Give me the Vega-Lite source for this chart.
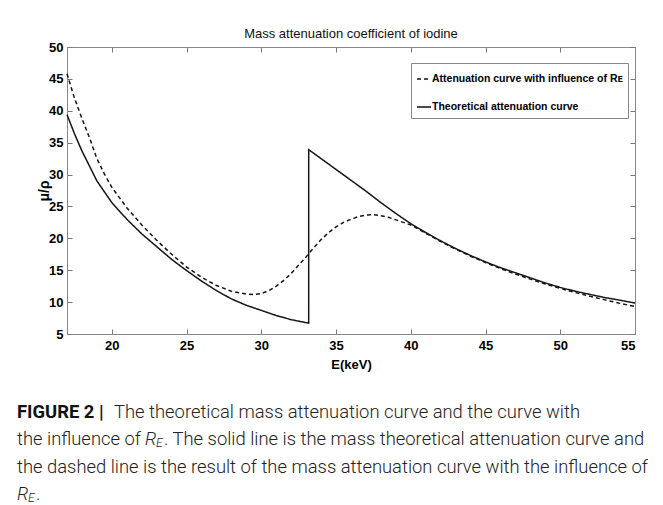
{
  "$schema": "https://vega.github.io/schema/vega-lite/v6.json",
  "background": "white",
  "padding": {"left": 17, "top": 27, "right": 0, "bottom": 0},
  "spacing": 31,
  "config": {"view": {"stroke": null}},
  "vconcat": [
    {
      "width": 568,
      "height": 287,
      "view": {"stroke": "#888", "strokeWidth": 1},
      "title": {"text": "Mass attenuation coefficient of iodine", "font": "Liberation Sans", "fontSize": 13, "fontWeight": "normal", "color": "#111", "offset": 0},
      "data": {"values": [
        {"i": 1, "series": "Theoretical attenuation curve", "E": 17, "mu": 39.4},
        {"i": 2, "series": "Theoretical attenuation curve", "E": 17.5, "mu": 36.4},
        {"i": 3, "series": "Theoretical attenuation curve", "E": 18, "mu": 33.7},
        {"i": 4, "series": "Theoretical attenuation curve", "E": 19, "mu": 29.0},
        {"i": 5, "series": "Theoretical attenuation curve", "E": 20, "mu": 25.6},
        {"i": 6, "series": "Theoretical attenuation curve", "E": 21, "mu": 23.0},
        {"i": 7, "series": "Theoretical attenuation curve", "E": 22, "mu": 20.7},
        {"i": 8, "series": "Theoretical attenuation curve", "E": 23, "mu": 18.7},
        {"i": 9, "series": "Theoretical attenuation curve", "E": 24, "mu": 16.7},
        {"i": 10, "series": "Theoretical attenuation curve", "E": 25, "mu": 14.95},
        {"i": 11, "series": "Theoretical attenuation curve", "E": 26, "mu": 13.3},
        {"i": 12, "series": "Theoretical attenuation curve", "E": 27, "mu": 11.8},
        {"i": 13, "series": "Theoretical attenuation curve", "E": 28, "mu": 10.5},
        {"i": 14, "series": "Theoretical attenuation curve", "E": 29, "mu": 9.5},
        {"i": 15, "series": "Theoretical attenuation curve", "E": 30, "mu": 8.7},
        {"i": 16, "series": "Theoretical attenuation curve", "E": 31, "mu": 7.9},
        {"i": 17, "series": "Theoretical attenuation curve", "E": 32, "mu": 7.25},
        {"i": 18, "series": "Theoretical attenuation curve", "E": 33.17, "mu": 6.7},
        {"i": 19, "series": "Theoretical attenuation curve", "E": 33.17, "mu": 33.9},
        {"i": 20, "series": "Theoretical attenuation curve", "E": 34, "mu": 32.5},
        {"i": 21, "series": "Theoretical attenuation curve", "E": 35, "mu": 30.8},
        {"i": 22, "series": "Theoretical attenuation curve", "E": 36, "mu": 29.1},
        {"i": 23, "series": "Theoretical attenuation curve", "E": 37, "mu": 27.4},
        {"i": 24, "series": "Theoretical attenuation curve", "E": 38, "mu": 25.6},
        {"i": 25, "series": "Theoretical attenuation curve", "E": 39, "mu": 23.9},
        {"i": 26, "series": "Theoretical attenuation curve", "E": 40, "mu": 22.3},
        {"i": 27, "series": "Theoretical attenuation curve", "E": 41, "mu": 20.9},
        {"i": 28, "series": "Theoretical attenuation curve", "E": 42, "mu": 19.6},
        {"i": 29, "series": "Theoretical attenuation curve", "E": 43, "mu": 18.4},
        {"i": 30, "series": "Theoretical attenuation curve", "E": 44, "mu": 17.3},
        {"i": 31, "series": "Theoretical attenuation curve", "E": 45, "mu": 16.3},
        {"i": 32, "series": "Theoretical attenuation curve", "E": 46, "mu": 15.4},
        {"i": 33, "series": "Theoretical attenuation curve", "E": 47, "mu": 14.6},
        {"i": 34, "series": "Theoretical attenuation curve", "E": 48, "mu": 13.8},
        {"i": 35, "series": "Theoretical attenuation curve", "E": 49, "mu": 13.0},
        {"i": 36, "series": "Theoretical attenuation curve", "E": 50, "mu": 12.3},
        {"i": 37, "series": "Theoretical attenuation curve", "E": 51, "mu": 11.7},
        {"i": 38, "series": "Theoretical attenuation curve", "E": 52, "mu": 11.2},
        {"i": 39, "series": "Theoretical attenuation curve", "E": 53, "mu": 10.7},
        {"i": 40, "series": "Theoretical attenuation curve", "E": 54, "mu": 10.3},
        {"i": 41, "series": "Theoretical attenuation curve", "E": 55, "mu": 9.85},
        {"i": 1, "series": "Attenuation curve with influence of Rᴇ", "E": 17, "mu": 45.8},
        {"i": 2, "series": "Attenuation curve with influence of Rᴇ", "E": 17.5, "mu": 42.0},
        {"i": 3, "series": "Attenuation curve with influence of Rᴇ", "E": 18, "mu": 38.8},
        {"i": 4, "series": "Attenuation curve with influence of Rᴇ", "E": 18.5, "mu": 35.8},
        {"i": 5, "series": "Attenuation curve with influence of Rᴇ", "E": 19, "mu": 32.5},
        {"i": 6, "series": "Attenuation curve with influence of Rᴇ", "E": 19.5, "mu": 30.1},
        {"i": 7, "series": "Attenuation curve with influence of Rᴇ", "E": 20, "mu": 28.0},
        {"i": 8, "series": "Attenuation curve with influence of Rᴇ", "E": 21, "mu": 24.8},
        {"i": 9, "series": "Attenuation curve with influence of Rᴇ", "E": 22, "mu": 22.1},
        {"i": 10, "series": "Attenuation curve with influence of Rᴇ", "E": 23, "mu": 19.7},
        {"i": 11, "series": "Attenuation curve with influence of Rᴇ", "E": 24, "mu": 17.5},
        {"i": 12, "series": "Attenuation curve with influence of Rᴇ", "E": 25, "mu": 15.5},
        {"i": 13, "series": "Attenuation curve with influence of Rᴇ", "E": 26, "mu": 13.9},
        {"i": 14, "series": "Attenuation curve with influence of Rᴇ", "E": 27, "mu": 12.6},
        {"i": 15, "series": "Attenuation curve with influence of Rᴇ", "E": 28, "mu": 11.7},
        {"i": 16, "series": "Attenuation curve with influence of Rᴇ", "E": 29, "mu": 11.25},
        {"i": 17, "series": "Attenuation curve with influence of Rᴇ", "E": 29.5, "mu": 11.2},
        {"i": 18, "series": "Attenuation curve with influence of Rᴇ", "E": 30, "mu": 11.35},
        {"i": 19, "series": "Attenuation curve with influence of Rᴇ", "E": 30.5, "mu": 11.8},
        {"i": 20, "series": "Attenuation curve with influence of Rᴇ", "E": 31, "mu": 12.5},
        {"i": 21, "series": "Attenuation curve with influence of Rᴇ", "E": 31.5, "mu": 13.4},
        {"i": 22, "series": "Attenuation curve with influence of Rᴇ", "E": 32, "mu": 14.5},
        {"i": 23, "series": "Attenuation curve with influence of Rᴇ", "E": 32.5, "mu": 15.8},
        {"i": 24, "series": "Attenuation curve with influence of Rᴇ", "E": 33, "mu": 17.1},
        {"i": 25, "series": "Attenuation curve with influence of Rᴇ", "E": 33.5, "mu": 18.5},
        {"i": 26, "series": "Attenuation curve with influence of Rᴇ", "E": 34, "mu": 19.8},
        {"i": 27, "series": "Attenuation curve with influence of Rᴇ", "E": 34.5, "mu": 20.9},
        {"i": 28, "series": "Attenuation curve with influence of Rᴇ", "E": 35, "mu": 21.8},
        {"i": 29, "series": "Attenuation curve with influence of Rᴇ", "E": 35.5, "mu": 22.5},
        {"i": 30, "series": "Attenuation curve with influence of Rᴇ", "E": 36, "mu": 23.0},
        {"i": 31, "series": "Attenuation curve with influence of Rᴇ", "E": 36.5, "mu": 23.4},
        {"i": 32, "series": "Attenuation curve with influence of Rᴇ", "E": 37, "mu": 23.65},
        {"i": 33, "series": "Attenuation curve with influence of Rᴇ", "E": 37.5, "mu": 23.7},
        {"i": 34, "series": "Attenuation curve with influence of Rᴇ", "E": 38, "mu": 23.55},
        {"i": 35, "series": "Attenuation curve with influence of Rᴇ", "E": 38.5, "mu": 23.3},
        {"i": 36, "series": "Attenuation curve with influence of Rᴇ", "E": 39, "mu": 22.9},
        {"i": 37, "series": "Attenuation curve with influence of Rᴇ", "E": 39.5, "mu": 22.5},
        {"i": 38, "series": "Attenuation curve with influence of Rᴇ", "E": 40, "mu": 22.1},
        {"i": 39, "series": "Attenuation curve with influence of Rᴇ", "E": 41, "mu": 20.8},
        {"i": 40, "series": "Attenuation curve with influence of Rᴇ", "E": 42, "mu": 19.5},
        {"i": 41, "series": "Attenuation curve with influence of Rᴇ", "E": 43, "mu": 18.3},
        {"i": 42, "series": "Attenuation curve with influence of Rᴇ", "E": 44, "mu": 17.2},
        {"i": 43, "series": "Attenuation curve with influence of Rᴇ", "E": 45, "mu": 16.2},
        {"i": 44, "series": "Attenuation curve with influence of Rᴇ", "E": 46, "mu": 15.25},
        {"i": 45, "series": "Attenuation curve with influence of Rᴇ", "E": 47, "mu": 14.4},
        {"i": 46, "series": "Attenuation curve with influence of Rᴇ", "E": 48, "mu": 13.6},
        {"i": 47, "series": "Attenuation curve with influence of Rᴇ", "E": 49, "mu": 12.85},
        {"i": 48, "series": "Attenuation curve with influence of Rᴇ", "E": 50, "mu": 12.15},
        {"i": 49, "series": "Attenuation curve with influence of Rᴇ", "E": 51, "mu": 11.5},
        {"i": 50, "series": "Attenuation curve with influence of Rᴇ", "E": 52, "mu": 10.9},
        {"i": 51, "series": "Attenuation curve with influence of Rᴇ", "E": 53, "mu": 10.35},
        {"i": 52, "series": "Attenuation curve with influence of Rᴇ", "E": 54, "mu": 9.8},
        {"i": 53, "series": "Attenuation curve with influence of Rᴇ", "E": 55, "mu": 9.3}
      ]},
      "resolve": {"axis": {"x": "independent", "y": "independent"}},
      "layer": [
        {
          "mark": {"type": "line", "strokeWidth": 1.5, "color": "#151515"},
          "encoding": {
            "x": {"field": "E", "type": "quantitative", "scale": {"domain": [17, 55], "nice": false, "zero": false},
              "axis": {"orient": "bottom", "values": [20, 25, 30, 35, 40, 45, 50, 55], "grid": false, "tickSize": -5, "tickColor": "#777", "domainColor": "#888", "labelFont": "Liberation Sans", "labelFontSize": 13, "labelFontWeight": "bold", "labelColor": "#000", "labelPadding": 10, "title": "E(keV)", "titleFont": "Liberation Sans", "titleFontSize": 13, "titleFontWeight": "bold", "titleColor": "#000", "titlePadding": 6}},
            "y": {"field": "mu", "type": "quantitative", "scale": {"domain": [5, 50], "nice": false, "zero": false},
              "axis": {"orient": "left", "values": [5, 10, 15, 20, 25, 30, 35, 40, 45, 50], "grid": false, "tickSize": -5, "tickColor": "#777", "domainColor": "#888", "labelFont": "Liberation Sans", "labelFontSize": 13, "labelFontWeight": "bold", "labelColor": "#000", "labelPadding": 9, "title": "μ/ρ", "titleFont": "Liberation Sans", "titleFontSize": 14, "titleFontWeight": "bold", "titleColor": "#000", "titlePadding": -3}},
            "strokeDash": {"field": "series", "type": "nominal",
              "scale": {"domain": ["Attenuation curve with influence of Rᴇ", "Theoretical attenuation curve"], "range": [[4, 3], [1, 0]]},
              "legend": {"orient": "none", "legendX": 344, "legendY": 16, "title": " ", "titleFontSize": 1, "titlePadding": 2, "strokeColor": "#888", "fillColor": "white", "padding": 5, "symbolType": "stroke", "symbolSize": 196, "symbolStrokeWidth": 1.5, "symbolStrokeColor": "#111", "labelFont": "Liberation Sans", "labelFontSize": 10.5, "labelFontWeight": "bold", "labelColor": "#000", "labelOffset": 0, "labelLimit": 400, "rowPadding": 14}},
            "order": {"field": "i", "type": "quantitative"}
          }
        },
        {
          "mark": {"type": "line", "opacity": 0},
          "encoding": {
            "x": {"field": "E", "type": "quantitative", "axis": {"orient": "top", "values": [20, 25, 30, 35, 40, 45, 50, 55], "labels": false, "grid": false, "tickSize": -5, "tickColor": "#777", "domainColor": "#888", "title": null}},
            "y": {"field": "mu", "type": "quantitative", "axis": {"orient": "right", "values": [5, 10, 15, 20, 25, 30, 35, 40, 45, 50], "labels": false, "grid": false, "tickSize": -5, "tickColor": "#777", "domainColor": "#888", "title": null}},
            "detail": {"field": "series"},
            "order": {"field": "i", "type": "quantitative"}
          }
        }
      ]
    },
    {
      "width": 568,
      "height": 82,
      "view": {"stroke": null},
      "encoding": {
        "x": {"datum": 0, "type": "quantitative", "scale": {"domain": [0, 1]}, "axis": null},
        "y": {"field": "line", "type": "quantitative", "scale": {"domain": [1, 4], "reverse": true}, "axis": null},
        "text": {"field": "t"}
      },
      "layer": [
        {"data": {"values": [{"line": 1, "t": "FIGURE 2 |"}]},
          "mark": {"type": "text", "align": "left", "baseline": "middle", "font": "Roboto", "fontSize": 18.4, "fontWeight": "bold", "color": "#111", "dx": -50}},
        {"data": {"values": [{"line": 1, "t": "The theoretical mass attenuation curve and the curve with"}]},
          "mark": {"type": "text", "align": "left", "baseline": "middle", "font": "Roboto", "fontSize": 18.4, "fontWeight": 300, "color": "#222", "dx": 47}},
        {"data": {"values": [{"line": 2, "t": "the influence of"}, {"line": 3, "t": "the dashed line is the result of the mass attenuation curve with the influence of"}]},
          "mark": {"type": "text", "align": "left", "baseline": "middle", "font": "Roboto", "fontSize": 18.4, "fontWeight": 300, "color": "#222", "dx": -50}},
        {"data": {"values": [{"line": 2, "t": "R"}]},
          "mark": {"type": "text", "align": "left", "baseline": "middle", "font": "Roboto", "fontSize": 18.4, "fontWeight": 300, "fontStyle": "italic", "color": "#222", "dx": 78}},
        {"data": {"values": [{"line": 2, "t": "E"}]},
          "mark": {"type": "text", "align": "left", "baseline": "middle", "font": "Roboto", "fontSize": 12, "fontWeight": 300, "fontStyle": "italic", "color": "#222", "dx": 89, "dy": 4}},
        {"data": {"values": [{"line": 2, "t": ". The solid line is the mass theoretical attenuation curve and"}]},
          "mark": {"type": "text", "align": "left", "baseline": "middle", "font": "Roboto", "fontSize": 18.4, "fontWeight": 300, "color": "#222", "dx": 97}},
        {"data": {"values": [{"line": 4, "t": "R"}]},
          "mark": {"type": "text", "align": "left", "baseline": "middle", "font": "Roboto", "fontSize": 18.4, "fontWeight": 300, "fontStyle": "italic", "color": "#222", "dx": -50}},
        {"data": {"values": [{"line": 4, "t": "E"}]},
          "mark": {"type": "text", "align": "left", "baseline": "middle", "font": "Roboto", "fontSize": 12, "fontWeight": 300, "fontStyle": "italic", "color": "#222", "dx": -39, "dy": 4}},
        {"data": {"values": [{"line": 4, "t": "."}]},
          "mark": {"type": "text", "align": "left", "baseline": "middle", "font": "Roboto", "fontSize": 18.4, "fontWeight": 300, "color": "#222", "dx": -31}}
      ]
    }
  ]
}
